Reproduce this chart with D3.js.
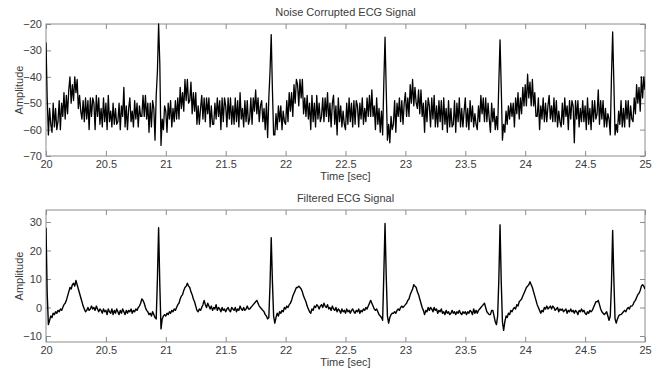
<!DOCTYPE html>
<html>
<head>
<meta charset="utf-8">
<script src="https://cdn.jsdelivr.net/npm/d3@7"></script>
<style>
body { margin: 0; background: #fff; }
svg text { font-family: "Liberation Sans", Arial, sans-serif; fill: #3c3c3c; }
</style>
</head>
<body>
<svg id="chart" width="662" height="371"></svg>
<script>
var width = 662, height = 371;

// samples start at 20 s, one every 10 ms
var t0 = 20, dt = 0.01;
var xTicks = [20, 20.5, 21, 21.5, 22, 22.5, 23, 23.5, 24, 24.5, 25];
var noisyTicks = [-70, -60, -50, -40, -30, -20];
var filteredTicks = [-10, 0, 10, 20, 30];

var noisy = [
  -27, -48, -62, -52, -58, -61, -50, -59, -52, -60,
  -57, -49, -60, -50, -55, -46, -56, -47, -54, -45,
  -40, -50, -43, -49, -40, -46, -41, -52, -47, -53,
  -56, -49, -57, -48, -56, -49, -60, -48, -55, -48,
  -50, -60, -47, -55, -48, -58, -52, -59, -48, -57,
  -50, -60, -47, -57, -53, -59, -50, -58, -52, -58,
  -57, -50, -60, -51, -55, -44, -59, -51, -60, -52,
  -48, -57, -53, -59, -49, -56, -50, -59, -51, -55,
  -55, -47, -55, -47, -56, -50, -61, -50, -59, -49,
  -52, -64, -47, -38, -20, -35, -66, -56, -60, -51,
  -53, -61, -50, -56, -49, -59, -52, -57, -49, -56,
  -48, -56, -44, -52, -46, -53, -41, -49, -41, -50,
  -49, -42, -54, -46, -53, -46, -58, -51, -58, -52,
  -47, -56, -48, -57, -48, -54, -48, -59, -51, -58,
  -58, -50, -56, -48, -55, -49, -60, -48, -57, -48,
  -51, -59, -48, -56, -48, -58, -51, -58, -48, -57,
  -49, -59, -46, -56, -52, -59, -49, -57, -49, -58,
  -56, -48, -58, -48, -53, -45, -54, -48, -57, -51,
  -49, -57, -52, -60, -50, -63, -48, -38, -24, -45,
  -62, -62, -54, -60, -51, -57, -51, -60, -53, -57,
  -58, -49, -57, -46, -53, -46, -55, -43, -50, -41,
  -43, -51, -41, -48, -41, -54, -48, -55, -47, -56,
  -50, -60, -47, -57, -50, -59, -47, -56, -50, -57,
  -55, -48, -57, -48, -55, -46, -57, -50, -59, -50,
  -47, -58, -51, -62, -48, -57, -51, -59, -53, -58,
  -60, -50, -58, -48, -57, -50, -59, -49, -58, -49,
  -51, -59, -50, -56, -48, -58, -52, -57, -48, -55,
  -47, -55, -45, -55, -51, -60, -48, -58, -52, -61,
  -53, -62, -42, -25, -45, -64, -58, -65, -55, -60,
  -58, -49, -61, -50, -55, -48, -57, -49, -58, -50,
  -46, -55, -48, -55, -43, -50, -41, -51, -44, -50,
  -52, -45, -54, -45, -55, -50, -61, -49, -57, -48,
  -51, -59, -48, -56, -47, -59, -51, -59, -49, -57,
  -49, -60, -48, -58, -52, -61, -49, -59, -52, -59,
  -58, -49, -61, -50, -57, -48, -59, -52, -59, -53,
  -48, -59, -52, -60, -49, -57, -51, -59, -54, -58,
  -60, -51, -57, -47, -54, -48, -57, -48, -57, -50,
  -56, -61, -50, -57, -52, -60, -55, -60, -42, -26,
  -44, -64, -58, -61, -53, -58, -51, -56, -50, -55,
  -50, -59, -48, -54, -46, -56, -48, -54, -44, -51,
  -43, -51, -39, -48, -42, -51, -41, -51, -46, -55,
  -55, -48, -60, -51, -56, -48, -57, -50, -57, -51,
  -47, -56, -51, -57, -48, -57, -49, -59, -53, -57,
  -59, -50, -58, -48, -55, -51, -60, -49, -56, -49,
  -51, -65, -49, -56, -49, -59, -52, -57, -49, -57,
  -51, -60, -48, -58, -52, -60, -49, -57, -49, -56,
  -54, -45, -58, -49, -56, -49, -59, -52, -59, -54,
  -56, -62, -40, -23, -42, -62, -58, -61, -53, -58,
  -49, -59, -52, -59, -49, -56, -49, -59, -51, -56,
  -57, -48, -54, -43, -50, -44, -53, -40, -48, -40,
  -45
];

var filtered = [
  28, 5, -6, -4.5, -3, -3.5, -2, -2.5, -1.5, -2,
  -1, -1.5, -0.5, -1, 0, 1, 1.5, 2.5, 4, 5.5,
  7, 6.5, 8, 8.5, 7.5, 9.5, 8, 6.5, 5, 3.5,
  2, 0.5, -0.5, -1.5, -1, 0, -1, -0.5, 0.5, -0.5,
  0, -1, 0.5, -0.5, -1.5, -0.5, -1, -2, -0.5, -1.5,
  -1, -2.5, -0.5, -1.5, -2, -0.5, -2.5, -1, -2, -0.5,
  -1.5, -2.5, -1, -2, -0.5, -1.5, -2.5, -1, -2, -1,
  -1.5, -0.5, -2, -1, -1.5, -0.5, -1, 0, 0.5, 1.5,
  3, 2.5, 1.5, 0, -1, -1.5, -2.5, -2, -3, -1.5,
  -2.5, -3.5, -4, 10, 28, 8, -7.5, -4, -3, -2.5,
  -3, -2, -2.5, -1.5, -2, -1, -1.5, -0.5, -1, 0,
  1, 1.5, 3, 4, 4.5, 6, 7, 7.5, 8.5, 7.5,
  7, 5.5, 4.5, 3, 2, 0.5, -1, -1.5, -0.5, -1,
  0, 1, 2.5, 1, 0, 1.5, 0.5, -0.5, 0.5, -1,
  0, -0.5, 1, -1, 0, -0.5, -1.5, 0, -1, -0.5,
  -1.5, -0.5, 0, -1, -1.5, 0, -0.5, -1, 0, -1.5,
  -0.5, -1, 0.5, -0.5, -1, 0, -1, -0.5, 0.5, -0.5,
  -0.5, 0, 0.5, 1, 1.5, 2, 2.5, 1.5, 0.5, 0,
  -0.5, -1, -1.5, -2.5, -3, -4, -3.5, 8, 24.5, 9,
  -3, -5.5, -3.5, -2, -3, -1.5, -2, -1, -1.5, 0,
  -0.5, 0.5, 0, 1, 1.5, 2.5, 4, 5, 6, 7,
  7, 7.5, 7, 6.5, 5.5, 4, 3, 2, 0.5, -0.5,
  -1.5, -2, -0.5, -1, 0.5, 0, 1, 0.5, -0.5, 0.5,
  1, 0, 1.5, 0.5, 0, 1, -0.5, 0, -1, 0.5,
  -0.5, -1, 0, -1.5, -0.5, -1, -2, -0.5, -1.5, -1,
  -2, -0.5, -1.5, -1, -2, -1, -0.5, -1.5, -2, -1,
  -1.5, -0.5, -2, -1, -1.5, -0.5, -1, 0, -0.5, 0.5,
  1.5, 2.5, 1.5, 0.5, -0.5, -1, -0.5, -1.5, -2.5, -3,
  -3.5, -4.5, 12, 29.5, 11, -3, -5.5, -3.5, -2.5, -2,
  -2, -1.5, -2, -1, -0.5, -1, 0, 0.5, 0, 0.5,
  1, 1.5, 2.5, 3, 4.5, 5.5, 6.5, 8, 7.5, 7,
  5.5, 4.5, 3, 1.5, 0, -1, -2.5, -1, -1.5, 0,
  -1, 0, -0.5, -1.5, 0, -1, -0.5, -2, -1, -1.5,
  -0.5, -2, -1.5, -2.5, -1, -2, -1.5, -2.5, -2, -1,
  -2, -1.5, -2.5, -1.5, -2, -1, -2, -2.5, -1.5, -2,
  -1.5, -2.5, -1.5, -2, -1, -1.5, -2.5, -0.5, -2, -1,
  -2, -1, -0.5, 0, 0.5, 1, 1.5, 0, -1.5, -2,
  -2.5, -2.5, -1, -1, -3, -5, -6, -3, 10, 29,
  9, -5, -8, -5, -3, -3.5, -2, -2.5, -1, -1.5,
  -0.5, 0, -0.5, 1, 0.5, 2, 2.5, 3, 4, 5,
  6, 7, 7.5, 8, 9, 8, 7, 5.5, 4, 2.5,
  1, 0, -1, -2, -1, -1.5, 0, -0.5, 0.5, -0.5,
  0, 0.5, -0.5, 0.5, 0, -1, -0.5, 0, -1.5, -0.5,
  -1, -0.5, -1.5, -1, -0.5, -2, -1, -1.5, -0.5, -1.5,
  -1, -2, -1, -1.5, -2.5, -1, -1.5, -0.5, -1.5, -1,
  -2, -2.5, -1.5, -2, -1, -1.5, -1, 0, 1, 2,
  2, 2.5, 1, -0.5, -1.5, -2, -2.5, -2, -1.5, -3,
  -4.5, -3, 8, 27, 10, -4, -5.5, -4, -3, -2.5,
  -2.5, -2, -1.5, -1, -1.5, -0.5, 0, -0.5, 0.5, 0.5,
  1, 2, 2.5, 3.5, 4.5, 5, 6, 7.5, 8, 7.5,
  6.5
];

var svg = d3.select('#chart');
var left = 46, right = 645;

var x = d3.scaleLinear()
    .domain([20, 25])
    .range([left, right]);

function drawPanel(values, yDomain, yTicks, top, bottom, title, id, lineWidth) {
    var y = d3.scaleLinear()
        .domain(yDomain)
        .range([bottom, top]);

    var g = svg.append('g');

    g.append('clipPath')
        .attr('id', id)
        .append('rect')
        .attr('x', left)
        .attr('y', top - 1)
        .attr('width', right - left)
        .attr('height', bottom - top + 2);

    // box, MATLAB style
    g.append('rect')
        .attr('x', left)
        .attr('y', top)
        .attr('width', right - left)
        .attr('height', bottom - top)
        .attr('fill', 'none')
        .attr('stroke', '#8c8c8c')
        .attr('stroke-width', 1);

    // ticks point inwards on all four sides
    var axes = [
        {gen: d3.axisBottom(x).tickValues(xTicks).tickFormat(d3.format('')), at: `translate(0,${bottom})`},
        {gen: d3.axisTop(x).tickValues(xTicks).tickFormat(''), at: `translate(0,${top})`},
        {gen: d3.axisLeft(y).tickValues(yTicks).tickFormat(d3.format('')), at: `translate(${left},0)`},
        {gen: d3.axisRight(y).tickValues(yTicks).tickFormat(''), at: `translate(${right},0)`}
    ];
    axes.forEach(function(a) {
        var ax = g.append('g')
            .attr('transform', a.at)
            .call(a.gen.tickSizeInner(-5).tickSizeOuter(0).tickPadding(4));
        ax.select('.domain').remove();
        ax.selectAll('.tick line').attr('stroke', '#8c8c8c');
        ax.selectAll('.tick text')
            .style('font-size', '11px')
            .attr('fill', '#3c3c3c');
    });

    g.append('path')
        .datum(values)
        .attr('clip-path', `url(#${id})`)
        .attr('fill', 'none')
        .attr('stroke', '#000')
        .attr('stroke-width', lineWidth)
        .attr('stroke-linejoin', 'round')
        .attr('d', d3.line()
            .x(function(d, i) { return x(t0 + i * dt); })
            .y(function(d) { return y(d); }));

    g.append('text')
        .attr('x', (left + right) / 2)
        .attr('y', top - 8)
        .attr('text-anchor', 'middle')
        .style('font-size', '11px')
        .text(title);

    g.append('text')
        .attr('x', (left + right) / 2)
        .attr('y', bottom + 24)
        .attr('text-anchor', 'middle')
        .style('font-size', '11px')
        .text('Time [sec]');

    g.append('text')
        .attr('transform', `translate(23,${(top + bottom) / 2}) rotate(-90)`)
        .attr('text-anchor', 'middle')
        .style('font-size', '11px')
        .text('Amplitude');
}

drawPanel(noisy, [-70, -20], noisyTicks, 24, 156, 'Noise Corrupted ECG Signal', 'clipTop', 1.3);
drawPanel(filtered, [-12.1, 34.2], filteredTicks, 210, 342, 'Filtered ECG Signal', 'clipBottom', 1.4);
</script>
</body>
</html>
